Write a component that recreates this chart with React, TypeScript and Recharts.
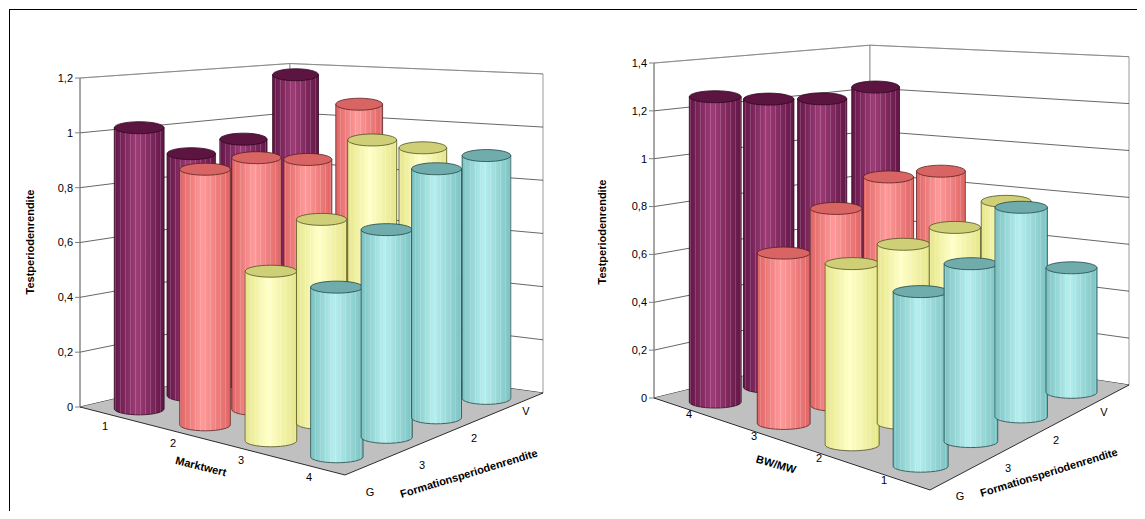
import { BarChart, Bar, XAxis, YAxis } from 'recharts';

// Formationsperiodenrendite (depth axis, front to back)
const FORMATION = ['G', '3', '2', 'V'];
const LEFT_ROWS = ['1', '2', '3', '4']; // Marktwert
const RIGHT_ROWS = ['4', '3', '2', '1']; // BW/MW

// values per row (purple, pink, yellow, cyan), along G,3,2,V
const LEFT_PURPLE = [1.03, 0.91, 0.94, 1.17];
const LEFT_PINK = [0.92, 0.93, 0.89, 1.07];
const LEFT_YELLOW = [0.6, 0.74, 0.99, 0.92];
const LEFT_CYAN = [0.59, 0.74, 0.91, 0.91];

const RIGHT_PURPLE = [1.28, 1.24, 1.21, 1.23];
const RIGHT_PINK = [0.7, 0.83, 0.91, 0.88];
const RIGHT_YELLOW = [0.73, 0.74, 0.74, 0.78];
const RIGHT_CYAN = [0.69, 0.72, 0.87, 0.53];

const LEFT_TICKS = [0, 0.2, 0.4, 0.6, 0.8, 1, 1.2];
const RIGHT_TICKS = [0, 0.2, 0.4, 0.6, 0.8, 1, 1.2, 1.4];

const COLORS = [
  { id: 'pu', side: '#862a62', light: '#9e3c78', dark: '#621646', top: '#5c1440', edge: '#2e0820' },
  { id: 'pk', side: '#ff8080', light: '#ff9a9a', dark: '#e06565', top: '#d86464', edge: '#5a2020' },
  { id: 'ye', side: '#ffffa8', light: '#ffffc8', dark: '#e6e68a', top: '#cfcf78', edge: '#505020' },
  { id: 'cy', side: '#a0e0e0', light: '#b6eeee', dark: '#7cc2c2', top: '#70acac', edge: '#204848' },
];

const buildData = (rows: number[][]) =>
  FORMATION.map((f, j) => ({ f, s0: rows[0][j], s1: rows[1][j], s2: rows[2][j], s3: rows[3][j] }));

const fmt = (v: number) => String(v).replace('.', ',');

// floor corners L (left), B (back), R (right), F (front) and height factor at each
const LEFT = {
  x0: 80, y0: 407, yTop: 78, max: 1.2, ticks: LEFT_TICKS, rx: 25, ry: 6,
  L: [80, 407], B: [290, 358], R: [543, 393], F: [345, 475],
  k: [1, 0.895, 0.97, 1.07],
  data: buildData([LEFT_PURPLE, LEFT_PINK, LEFT_YELLOW, LEFT_CYAN]),
};
const RIGHT = {
  x0: 654, y0: 398, yTop: 63, max: 1.4, ticks: RIGHT_TICKS, rx: 26, ry: 6,
  L: [654, 398], B: [870, 345], R: [1129, 385], F: [930, 490],
  k: [1, 0.895, 0.98, 1.08],
  data: buildData([RIGHT_PURPLE, RIGHT_PINK, RIGHT_YELLOW, RIGHT_CYAN]),
};

// bilinear position on the floor: u along rows (L->F), v along formation (L->B)
const floorAt = (cfg: typeof LEFT, u: number, v: number) => {
  const w = [(1 - u) * (1 - v), (1 - u) * v, u * v, u * (1 - v)];
  const P = [cfg.L, cfg.B, cfg.R, cfg.F];
  return {
    x: w.reduce((a, wi, n) => a + wi * P[n][0], 0),
    y: w.reduce((a, wi, n) => a + wi * P[n][1], 0),
    k: w.reduce((a, wi, n) => a + wi * cfg.k[n], 0),
  };
};

const Cylinder = (props: any) => {
  const { height, index, row, cfg } = props;
  const c = COLORS[row];
  const p = floorAt(cfg, (row + 0.5) / 4, (index + 0.5) / 4);
  const h = height * p.k;
  const cx = p.x;
  const cy = p.y;
  const top = cy - h;
  const rx = cfg.rx * p.k;
  const ry = cfg.ry;
  const side = `M${cx - rx},${top} L${cx - rx},${cy} A${rx},${ry} 0 0 0 ${cx + rx},${cy} L${cx + rx},${top} Z`;
  return (
    <g>
      <path d={side} fill={`url(#g-${c.id})`} stroke={c.edge} strokeWidth={0.8} />
      <path d={side} fill={`url(#p-${c.id})`} stroke="none" />
      <ellipse cx={cx} cy={top} rx={rx} ry={ry} fill={c.top} stroke={c.edge} strokeWidth={0.8} />
    </g>
  );
};

const Walls = ({ cfg }: { cfg: typeof LEFT }) => {
  const s = (cfg.y0 - cfg.yTop) / cfg.max;
  const { L, B, R, F } = cfg;
  const [kL, kB, kR] = cfg.k;
  const pt = (p: number[], t: number, k: number) => `${p[0]},${p[1] - t * s * k}`;
  return (
    <g>
      <polygon points={`${pt(L, 0, kL)} ${pt(B, 0, kB)} ${pt(B, cfg.max, kB)} ${pt(L, cfg.max, kL)}`} fill="#fff" stroke="#808080" strokeWidth={0.8} />
      <polygon points={`${pt(B, 0, kB)} ${pt(R, 0, kR)} ${pt(R, cfg.max, kR)} ${pt(B, cfg.max, kB)}`} fill="#fff" stroke="#808080" strokeWidth={0.8} />
      {cfg.ticks.map((t) => (
        <polyline key={t} points={`${pt(L, t, kL)} ${pt(B, t, kB)} ${pt(R, t, kR)}`} fill="none"
          stroke={t === cfg.max ? '#808080' : '#000'} strokeWidth={0.6} />
      ))}
      <polygon points={`${pt(L, 0, 1)} ${pt(B, 0, 1)} ${pt(R, 0, 1)} ${pt(F, 0, 1)}`} fill="#c0c0c0" stroke="none" />
      <polyline points={`${pt(L, 0, 1)} ${pt(F, 0, 1)} ${pt(R, 0, 1)}`} fill="none" stroke="#000" strokeWidth={0.8} />
    </g>
  );
};

const Panel = ({ cfg }: { cfg: typeof LEFT }) => (
  <div style={{ position: 'absolute', left: 0, top: 0 }}>
    <BarChart
      width={1145}
      height={519}
      data={cfg.data}
      margin={{ top: cfg.yTop, bottom: 519 - cfg.y0, left: cfg.x0 - 40, right: 1145 - cfg.x0 - 400 }}
    >
      <XAxis dataKey="f" hide />
      <YAxis
        width={40}
        domain={[0, cfg.max]}
        ticks={cfg.ticks}
        tickFormatter={fmt}
        axisLine={{ stroke: '#808080' }}
        tickLine={{ stroke: '#808080' }}
        tickSize={5}
        tick={{ fontSize: 11, fill: '#000', fontFamily: 'Arial, Liberation Sans' }}
        interval={0}
      />
      {[0, 1, 2, 3].map((k) => (
        <Bar key={k} dataKey={`s${k}`} isAnimationActive={false} shape={(p: any) => <Cylinder {...p} row={k} cfg={cfg} />} />
      ))}
    </BarChart>
  </div>
);

const T = ({ x, y, t, bold, rot = 0 }: any) => (
  <text x={x} y={y} textAnchor="middle" fontSize={11} fontWeight={bold ? 'bold' : 'normal'}
    fontFamily="Arial, Liberation Sans" transform={rot ? `rotate(${rot} ${x} ${y})` : undefined}>{t}</text>
);

export default function App() {
  return (
    <div style={{ position: 'relative', width: 1129, height: 503 }}>
      <div style={{ position: 'absolute', left: -8, top: -8, width: 1145, height: 519, background: '#fff' }}>
        <svg width={1145} height={519} style={{ position: 'absolute', left: 0, top: 0 }}>
          <defs>
            {COLORS.map((c) => (
              <g key={c.id}>
                <linearGradient id={`g-${c.id}`} x1="0" x2="1" y1="0" y2="0">
                  <stop offset="0" stopColor={c.dark} />
                  <stop offset="0.45" stopColor={c.light} />
                  <stop offset="1" stopColor={c.dark} />
                </linearGradient>
                <pattern id={`p-${c.id}`} width={5} height={10} patternUnits="userSpaceOnUse">
                  <line x1={0.5} y1={0} x2={0.5} y2={10} stroke="#fff" strokeOpacity={0.25} strokeWidth={0.7} />
                </pattern>
              </g>
            ))}
          </defs>
          <rect x={9.5} y={9.5} width={1128} height={515} fill="none" stroke="#000" strokeWidth={1} />
          <Walls cfg={LEFT} />
          <Walls cfg={RIGHT} />
          <T x={34} y={242} t="Testperiodenrendite" bold rot={-90} />
          <T x={606} y={232} t="Testperiodenrendite" bold rot={-90} />
          {LEFT_ROWS.map((t, i) => <T key={t} x={105 + i * 68} y={430 + i * 17} t={t} />)}
          <T x={200} y={470} t="Marktwert" bold rot={14} />
          {FORMATION.map((t, j) => <T key={t} x={370 + j * 52} y={496 - j * 27} t={t} />)}
          <T x={470} y={477} t="Formationsperiodenrendite" bold rot={-17} />
          {RIGHT_ROWS.map((t, i) => <T key={t} x={689 + i * 65} y={418 + i * 22} t={t} />)}
          <T x={775} y={468} t="BW/MW" bold rot={16} />
          {FORMATION.map((t, j) => <T key={t} x={960 + j * 48} y={500 - j * 28} t={t} />)}
          <T x={1050} y={476} t="Formationsperiodenrendite" bold rot={-17} />
        </svg>
        <Panel cfg={LEFT} />
        <Panel cfg={RIGHT} />
      </div>
    </div>
  );
}
